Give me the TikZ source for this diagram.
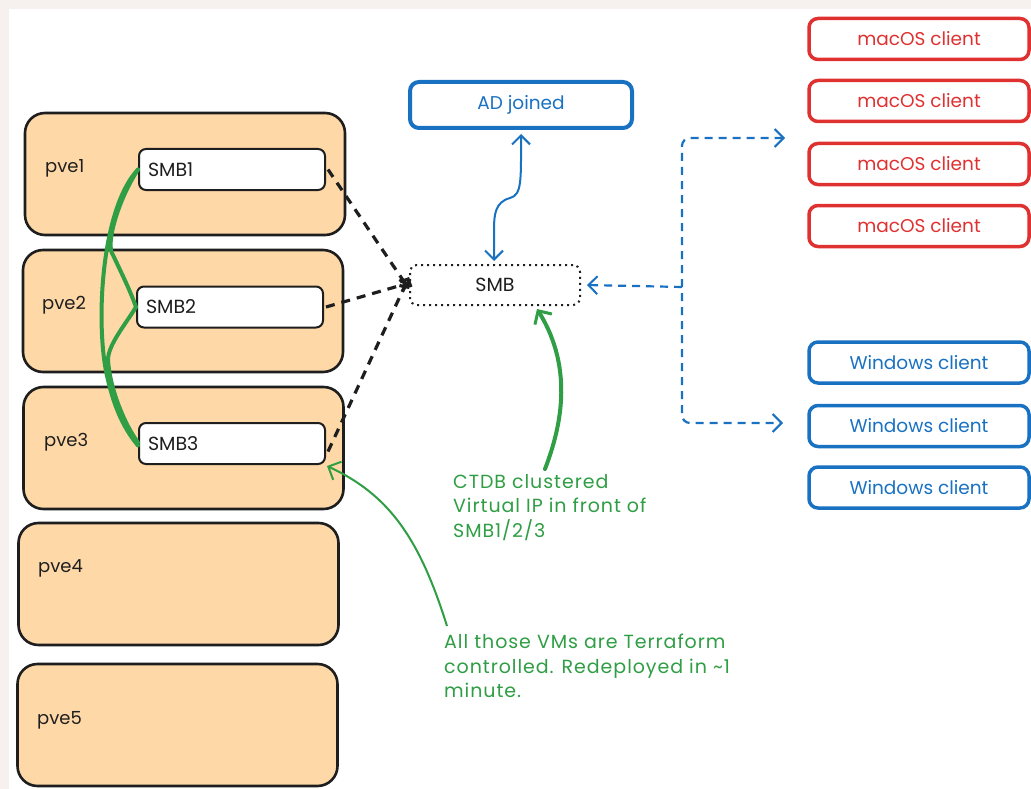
\documentclass[tikz,border=0pt]{standalone}
\usepackage{fontspec}
\setmainfont{Poppins}
\usetikzlibrary{arrows.meta}
\definecolor{bgc}{HTML}{F6F1EE}
\definecolor{orng}{HTML}{FFD8A8}
\definecolor{ink}{HTML}{1E1E1E}
\definecolor{exred}{HTML}{E03131}
\definecolor{exblue}{HTML}{1971C2}
\definecolor{exgreen}{HTML}{2F9E44}
\tikzset{
  pvebox/.style={draw=ink, line width=2.6pt, fill=orng, rounded corners=20pt, minimum width=320pt, minimum height=122pt, inner sep=0pt},
  smbbox/.style={draw=ink, line width=2pt, fill=white, rounded corners=7pt, minimum width=186pt, minimum height=41pt, inner sep=0pt, font=\fontsize{19}{20}\selectfont, text=ink},
  viplbl/.style={draw=ink, line width=2pt, dash pattern=on 2pt off 4pt, fill=white, rounded corners=7pt, minimum width=170pt, minimum height=40pt, inner sep=0pt, font=\fontsize{19}{20}\selectfont, text=ink},
  redbox/.style={draw=exred, line width=3.5pt, fill=white, rounded corners=9pt, minimum width=220pt, minimum height=41pt, inner sep=0pt, font=\fontsize{18.5}{20}\selectfont, text=exred},
  bluebox/.style={draw=exblue, line width=3.5pt, fill=white, rounded corners=9pt, minimum width=220pt, minimum height=41pt, inner sep=0pt, font=\fontsize{18.5}{20}\selectfont, text=exblue},
  pvelbl/.style={anchor=west, inner sep=0pt, font=\fontsize{18}{20}\selectfont, text=ink},
  note/.style={anchor=north west, align=left, inner sep=0pt, font=\fontsize{19}{24.5}\selectfont\addfontfeatures{LetterSpace=5}, text=exgreen},
  blk/.style={draw=ink, line width=3.2pt, dash pattern=on 9pt off 7pt, -{Straight Barb[length=6pt,width=12pt]}},
  bdash/.style={draw=exblue, line width=2.2pt, dash pattern=on 8pt off 6pt},
  barb/.style={-{Straight Barb[length=9pt,width=18pt,line width=2pt]}},
  grn/.style={draw=exgreen, line width=4pt, line cap=round},
}
\begin{document}
\begin{tikzpicture}[x=1pt,y=-1pt]
\useasboundingbox (0,0) rectangle (1031,789);
\clip (0,0) rectangle (1031,789);
\fill[bgc] (0,0) rectangle (1031,789);
\fill[white] (9,9) rectangle (1031,789);

% pve hosts
\node[pvebox] (pve1) at (185,174) {};
\node[pvebox] (pve2) at (183,311) {};
\node[pvebox] (pve3) at (183.5,448) {};
\node[pvebox] (pve4) at (178.5,584) {};
\node[pvebox] (pve5) at (177.5,725) {};
\node[pvelbl] (l1) at (45,168) {pve1};
\node[pvelbl] (l2) at (42,305) {pve2};
\node[pvelbl] (l3) at (44,442) {pve3};
\node[pvelbl] (l4) at (38,568) {pve4};
\node[pvelbl] (l5) at (37,720) {pve5};

% SMB VMs
\node[smbbox, text width=168pt, align=left] (smb1) at (232,169.5) {SMB1};
\node[smbbox, text width=168pt, align=left] (smb2) at (230,307) {SMB2};
\node[smbbox, text width=168pt, align=left] (smb3) at (232,443.5) {SMB3};

% virtual SMB
\node[viplbl] (vip) at (495,285) {SMB};
\node[bluebox, line width=4pt, minimum width=222pt, minimum height=46pt] (ad) at (521,105) {AD joined};

% clients
\node[redbox] (m1) at (919,39) {macOS client};
\node[redbox] (m2) at (919,101) {macOS client};
\node[redbox] (m3) at (919,164) {macOS client};
\node[redbox] (m4) at (919,226) {macOS client};
\node[bluebox] (w1) at (919,362.5) {Windows client};
\node[bluebox] (w2) at (919,426) {Windows client};
\node[bluebox] (w3) at (919,487.5) {Windows client};

% green replication curves
\draw[grn] (smb1.west) .. controls (118,200) and (105,245) .. (113,255) .. controls (120,270) and (130,290) .. (smb2.west);
\draw[grn] (smb1.west) .. controls (100,210) and (95,330) .. (108,380) .. controls (115,410) and (125,430) .. ([yshift=-2pt]smb3.west);
\draw[grn] (smb2.west) .. controls (125,325) and (108,345) .. (108,360) .. controls (110,390) and (125,425) .. ([yshift=1pt]smb3.west);

% black dashed links
\draw[blk] ([xshift=2pt]smb1.east) -- ([yshift=-4pt]vip.west);
\draw[blk] ([xshift=2pt]smb2.east) -- ([yshift=2pt]vip.west);
\draw[blk] ([xshift=2pt,yshift=-8pt]smb3.east) -- ([yshift=8pt]vip.west);

% AD link
\coordinate (adlow) at (494,261);
\draw[exblue, line width=2pt, {Straight Barb[length=9pt,width=18pt,line width=2pt]}-{Straight Barb[length=9pt,width=18pt,line width=2pt]}]
  ([yshift=-4pt]ad.south) .. controls (521,180) and (522,195) .. (510,198) .. controls (495,202) and (494,215) .. (494,230) -- (adlow);

% blue dashed fan-out
\coordinate (br) at (682,287);
\coordinate (top) at (785,138);
\coordinate (bot) at (783,423);
\draw[bdash, barb] (br) -- ([xshift=6pt]vip.east);
\draw[bdash, barb] (br) -- (682,146) to[out=90,in=180] (690,138) -- (top);
\draw[bdash, barb] ([yshift=-6pt]br) -- (682,415) to[out=-90,in=180] (690,423) -- (bot);

% annotations
\node[note] (ctdb) at (453,474) {CTDB clustered\\Virtual IP in front of\\SMB1/2/3};
\node[note] (tf) at (444,634) {All those VMs are Terraform\\controlled. Redeployed in \textasciitilde1\\minute.};

\draw[exgreen, line width=4pt, line cap=round, -{Straight Barb[length=10pt,width=20pt,line width=3pt]}]
  ([xshift=92pt,yshift=5pt]ctdb.north west) .. controls (560,430) and (575,370) .. ([xshift=42pt,yshift=-3pt]vip.south);
\draw[exgreen, line width=2pt, -{Straight Barb[length=10pt,width=20pt,line width=2pt]}]
  ([xshift=3pt,yshift=8pt]tf.north west) .. controls (420,540) and (390,495) .. ([xshift=1pt,yshift=-1pt]smb3.south east);
\end{tikzpicture}
\end{document}
